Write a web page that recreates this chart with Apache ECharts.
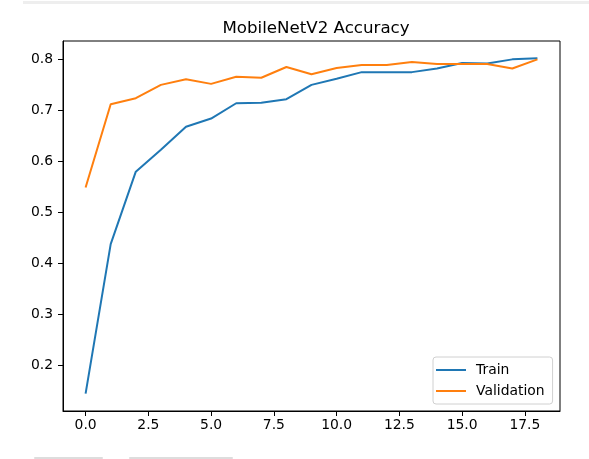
<!DOCTYPE html>
<html>
<head>
<meta charset="utf-8">
<script src="https://cdn.jsdelivr.net/npm/echarts@6/dist/echarts.min.js"></script>
<style>
html,body{margin:0;padding:0;background:#fff;}
#chart{width:589px;height:459px;}
</style>
</head>
<body>
<div id="chart"></div>
<script>
var epochs = [0,1,2,3,4,5,6,7,8,9,10,11,12,13,14,15,16,17,18];
var trainAcc = [0.145,0.438,0.580,0.623,0.668,0.684,0.714,0.715,0.722,0.750,0.762,0.775,0.775,0.775,0.782,0.793,0.792,0.800,0.802];
var valAcc = [0.549,0.712,0.724,0.750,0.761,0.752,0.766,0.764,0.785,0.771,0.783,0.789,0.789,0.795,0.791,0.791,0.791,0.782,0.800];
var xTicks = [0,2.5,5,7.5,10,12.5,15,17.5];
var yTicks = [0.2,0.3,0.4,0.5,0.6,0.7,0.8];

var font = 'DejaVu Sans';
function pairs(xs, ys){ return xs.map(function(x,i){ return [x, ys[i]]; }); }

var chart = echarts.init(document.getElementById('chart'), null, {renderer:'canvas'});
chart.setOption({
  animation: false,
  backgroundColor: '#fff',
  title: {
    text: 'MobileNetV2 Accuracy',
    left: 311, top: 15, textAlign: 'center',
    textStyle: {fontFamily: font, fontSize: 16.67, fontWeight: 'normal', color: '#000'}
  },
  grid: {left: 63, right: 29, top: 41, bottom: 48, show: true, borderColor: '#000', borderWidth: 1, backgroundColor: 'transparent'},
  xAxis: {
    type: 'value', min: -0.9, max: 18.9,
    axisLine: {show: true, onZero: false, lineStyle: {color: '#000', width: 1}},
    axisTick: {show: true, length: 5, customValues: xTicks, lineStyle: {color: '#000'}},
    axisLabel: {customValues: xTicks, margin: 7, fontFamily: font, fontSize: 13.9, color: '#000',
      formatter: function(v){ return v.toFixed(1); }},
    splitLine: {show: false}
  },
  yAxis: {
    type: 'value', min: 0.111, max: 0.836,
    axisLine: {show: true, onZero: false, lineStyle: {color: '#000', width: 1}},
    axisTick: {show: true, length: 5, customValues: yTicks, lineStyle: {color: '#000'}},
    axisLabel: {customValues: yTicks, margin: 10, fontFamily: font, fontSize: 13.9, color: '#000',
      formatter: function(v){ return v.toFixed(1); }},
    splitLine: {show: false}
  },
  legend: {
    orient: 'vertical', left: 433, top: 357,
    padding: [6, 8, 6, 3], itemGap: 7,
    itemWidth: 30, itemHeight: 2, icon: 'rect',
    borderColor: '#d0d0d0', borderWidth: 1, borderRadius: 3,
    backgroundColor: 'rgba(255,255,255,0.8)',
    textStyle: {fontFamily: font, fontSize: 13.9, color: '#000', padding: [0,0,0,5]},
    data: ['Train', 'Validation']
  },
  series: [
    {name: 'Train', type: 'line', data: pairs(epochs, trainAcc), showSymbol: false, symbol: 'none',
      lineStyle: {color: '#1f77b4', width: 2}, itemStyle: {color: '#1f77b4'}},
    {name: 'Validation', type: 'line', data: pairs(epochs, valAcc), showSymbol: false, symbol: 'none',
      lineStyle: {color: '#ff7f0e', width: 2}, itemStyle: {color: '#ff7f0e'}}
  ],
  graphic: [
    {type: 'rect', shape: {x: 23, y: 1, width: 566, height: 3}, style: {fill: '#eeeeee'}, silent: true},
    {type: 'rect', shape: {x: 34, y: 457, width: 69, height: 2, r: 1}, style: {fill: '#dddddd'}, silent: true},
    {type: 'rect', shape: {x: 129, y: 457, width: 104, height: 2, r: 1}, style: {fill: '#dddddd'}, silent: true}
  ]
});
</script>
</body>
</html>
